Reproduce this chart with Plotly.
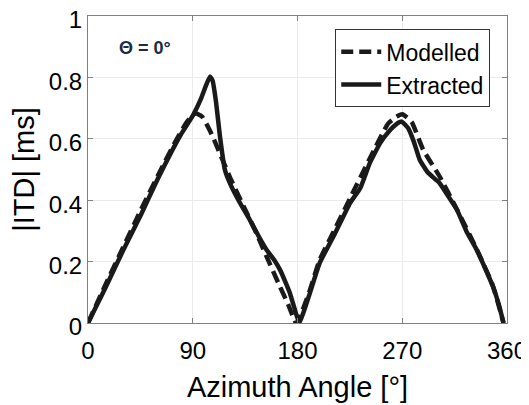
import plotly.graph_objects as go

# Modelled ITD (dashed)
mod_az = [0, 15, 30, 45, 60, 75, 85, 92, 98, 105, 113, 123, 135, 145, 153, 165, 172, 179,
          190, 199, 212, 225, 242, 258, 265, 270, 278, 288, 302, 317, 334, 348, 357]
mod_itd = [0, 0.125, 0.245, 0.365, 0.48, 0.59, 0.655, 0.683, 0.672, 0.625, 0.555, 0.466, 0.37, 0.29, 0.22, 0.118, 0.06, 0.0,
           0.1, 0.205, 0.305, 0.405, 0.535, 0.65, 0.672, 0.68, 0.655, 0.564, 0.478, 0.37, 0.24, 0.12, 0.0]

# Extracted ITD (solid)
ext_az = [0, 15, 30, 46, 60, 70, 80, 90, 97, 101, 104.8, 107, 110, 113.4, 117.7, 122, 130, 139, 147,
          153.5, 160, 165, 170, 173.5, 178, 181.5, 190, 199, 212, 225, 234, 242, 251, 260, 265, 269.5,
          275, 280, 285, 292, 302, 310, 317, 325, 334, 341, 348, 353, 357]
ext_itd = [0, 0.115, 0.235, 0.357, 0.47, 0.545, 0.615, 0.675, 0.73, 0.77, 0.803, 0.79, 0.72, 0.607, 0.498, 0.455, 0.395, 0.336, 0.28,
           0.238, 0.205, 0.173, 0.13, 0.097, 0.04, 0.0, 0.09, 0.195, 0.29, 0.39, 0.44, 0.52, 0.586, 0.63, 0.648, 0.656,
           0.635, 0.59, 0.532, 0.49, 0.456, 0.41, 0.369, 0.3, 0.238, 0.18, 0.118, 0.06, 0.0]

x_ticks = [0, 90, 180, 270, 360]
y_ticks = [0, 0.2, 0.4, 0.6, 0.8, 1]
y_ticklabels = ["0", "0.2", "0.4", "0.6", "0.8", "1"]

line_color = "#1a1a1a"
font_family = "Liberation Sans, Arial, sans-serif"

fig = go.Figure()
fig.add_trace(go.Scatter(x=mod_az, y=mod_itd, mode="lines", name="Modelled",
                         line=dict(color=line_color, width=4.5, dash="12px,6px", shape="spline", smoothing=0.5)))
fig.add_trace(go.Scatter(x=ext_az, y=ext_itd, mode="lines", name="Extracted",
                         line=dict(color=line_color, width=4.5, shape="spline", smoothing=0.4)))

axis_common = dict(showline=True, linecolor="#808080", linewidth=1, mirror="allticks",
                   ticks="inside", ticklen=5, tickcolor="#808080", automargin=False,
                   ticklabeloverflow="allow",
                   showgrid=True, gridcolor="#ebebeb", gridwidth=1, zeroline=False,
                   tickfont=dict(size=24, color="#000000", family=font_family))

fig.update_xaxes(range=[0, 360], tickvals=x_ticks, ticklabelstandoff=6,
                 title=dict(text="Azimuth Angle [°]", font=dict(size=29, color="#000000", family=font_family), standoff=13),
                 **axis_common)
fig.update_yaxes(range=[0, 1], tickvals=y_ticks, ticktext=y_ticklabels, ticklabelshift=4,
                 title=dict(text="|ITD| [ms]", font=dict(size=29, color="#000000", family=font_family), standoff=5),
                 **axis_common)

fig.add_annotation(text="<b>Θ = 0°</b>", xref="paper", yref="paper", x=0.136, y=0.896,
                   xanchor="center", yanchor="middle",
                   showarrow=False, font=dict(size=18, color="#1b2a45", family=font_family))

# The page body adds an 8px margin, so the figure is 8px smaller than the window
fig.update_layout(
    width=521, height=397,
    margin=dict(l=80, r=22, t=8, b=82),
    paper_bgcolor="white", plot_bgcolor="white",
    legend=dict(x=0.96, y=0.957, xanchor="right", yanchor="top",
                bordercolor="#333333", borderwidth=1, bgcolor="white",
                font=dict(size=23, color="#000000", family=font_family),
                tracegroupgap=0, itemwidth=40),
    showlegend=True,
)

fig.write_html("out.html")
